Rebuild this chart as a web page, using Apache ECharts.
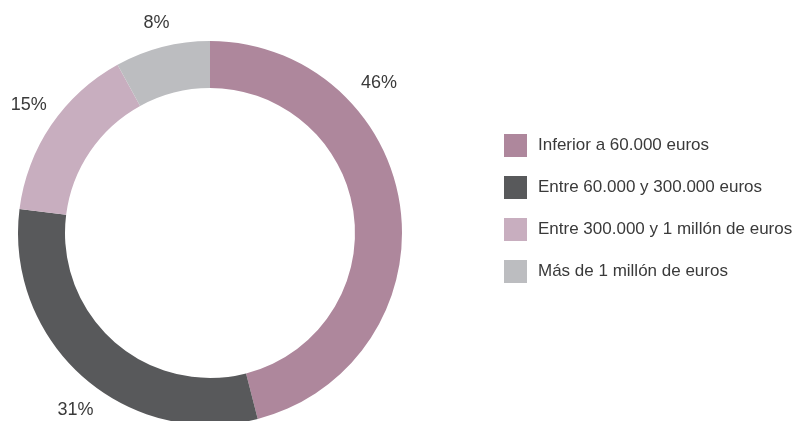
<!DOCTYPE html>
<html>
<head>
<meta charset="utf-8">
<script src="https://cdn.jsdelivr.net/npm/echarts@6/dist/echarts.min.js"></script>
<style>
  html, body { margin: 0; padding: 0; background: #fff; }
  #main { width: 810px; height: 421px; }
</style>
</head>
<body>
<div id="main"></div>
<script>
var categories = ['Inferior a 60.000 euros', 'Entre 60.000 y 300.000 euros', 'Entre 300.000 y 1 millón de euros', 'Más de 1 millón de euros'];
var shares = [46, 31, 15, 8];
var colors = ['#ae879c', '#58595b', '#c8aebf', '#bcbdc0'];

var font = "'Liberation Sans', Arial, sans-serif";
var cx = 210, cy = 233;

// colocacion de las etiquetas: angulo (grados desde arriba, horario) y distancia al centro
var labelAngles = [48.4, 217.3, 305.3, 345.7];
var labelRadii = [226, 222, 222, 217];

var myChart = echarts.init(document.getElementById('main'));

var option = {
    color: colors,
    animation: false,
    legend: {
        orient: 'vertical',
        left: 504,
        top: 134,
        padding: 0,
        itemWidth: 23,
        itemHeight: 23,
        itemGap: 19,
        icon: 'rect',
        data: categories,
        textStyle: {
            color: '#3a3a3a',
            fontSize: 17,
            fontFamily: font,
            padding: [0, 0, 0, 6]
        }
    },
    series: [{
        type: 'pie',
        center: [cx, cy],
        radius: [145, 192],
        startAngle: 90,
        silent: true,
        avoidLabelOverlap: false,
        label: {
            show: true,
            position: 'inside',
            formatter: '{c}%',
            color: '#3a3a3a',
            fontSize: 18,
            fontFamily: font,
            overflow: 'none'
        },
        labelLine: { show: false },
        labelLayout: function (params) {
            var i = params.dataIndex;
            var a = labelAngles[i] * Math.PI / 180;
            return {
                x: cx + labelRadii[i] * Math.sin(a),
                y: cy - labelRadii[i] * Math.cos(a),
                align: 'center',
                verticalAlign: 'middle'
            };
        },
        data: categories.map(function (name, i) {
            return { name: name, value: shares[i] };
        })
    }]
};

myChart.setOption(option);
</script>
</body>
</html>
